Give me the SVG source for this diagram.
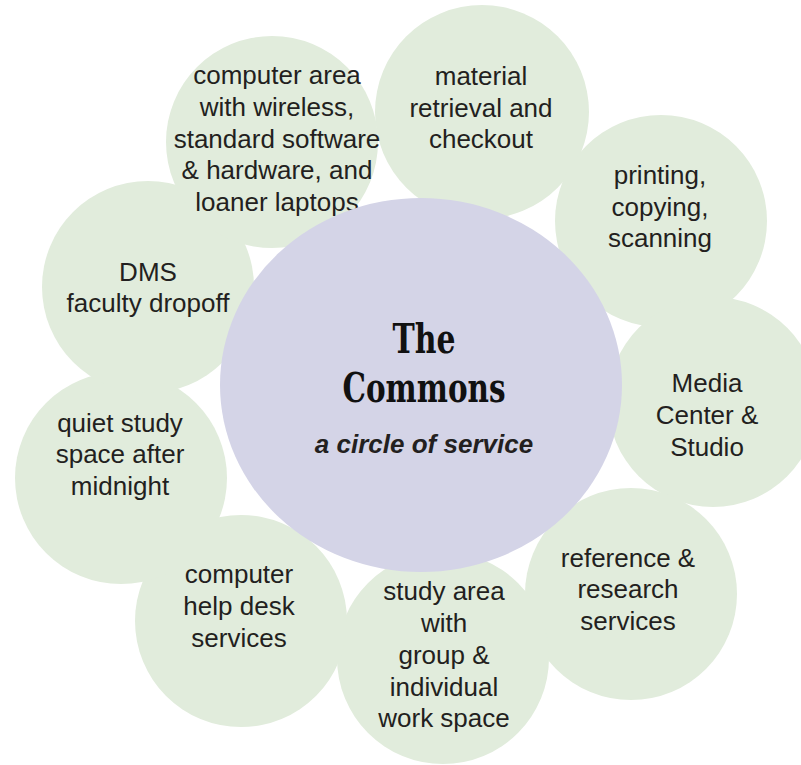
<svg xmlns="http://www.w3.org/2000/svg" width="801" height="765" viewBox="0 0 801 765">
<style>
.c{fill:#e1ecdc;}
.t{font-family:"Liberation Sans",Arial,sans-serif;font-size:26px;fill:#231f20;text-anchor:middle;}
.hub{fill:#d4d4e7;}
.title{font-family:"DejaVu Serif Condensed","DejaVu Serif",serif;font-weight:bold;font-size:41px;fill:#111;text-anchor:middle;}
.sub{font-family:"Liberation Sans",Arial,sans-serif;font-weight:bold;font-style:italic;font-size:26px;fill:#231f20;text-anchor:middle;}
</style>
<rect width="801" height="765" fill="#ffffff"/>
<g id="connectors"/>
<g id="material-retrieval">
<circle class="c" cx="482" cy="112" r="107"/>
<text class="t" x="481" y="85">material</text>
<text class="t" x="481" y="117">retrieval and</text>
<text class="t" x="481" y="148">checkout</text>
</g>
<g id="printing">
<circle class="c" cx="661" cy="221" r="106"/>
<text class="t" x="660" y="184">printing,</text>
<text class="t" x="660" y="216">copying,</text>
<text class="t" x="660" y="247">scanning</text>
</g>
<g id="media-center">
<circle class="c" cx="713" cy="402" r="105"/>
<text class="t" x="707" y="392">Media</text>
<text class="t" x="707" y="424">Center &amp;</text>
<text class="t" x="707" y="456">Studio</text>
</g>
<g id="reference">
<circle class="c" cx="631" cy="594" r="106"/>
<text class="t" x="628" y="567">reference &amp;</text>
<text class="t" x="628" y="598">research</text>
<text class="t" x="628" y="630">services</text>
</g>
<g id="study-area">
<circle class="c" cx="443" cy="658" r="106"/>
<text class="t" x="444" y="600">study area</text>
<text class="t" x="444" y="632">with</text>
<text class="t" x="444" y="664">group &amp;</text>
<text class="t" x="444" y="696">individual</text>
<text class="t" x="444" y="727">work space</text>
</g>
<g id="help-desk">
<circle class="c" cx="241" cy="621" r="106"/>
<text class="t" x="239" y="583">computer</text>
<text class="t" x="239" y="615">help desk</text>
<text class="t" x="239" y="647">services</text>
</g>
<g id="quiet-study">
<circle class="c" cx="121" cy="478" r="106"/>
<text class="t" x="120" y="432">quiet study</text>
<text class="t" x="120" y="463">space after</text>
<text class="t" x="120" y="495">midnight</text>
</g>
<g id="dms">
<circle class="c" cx="148" cy="287" r="106"/>
<text class="t" x="148" y="281">DMS</text>
<text class="t" x="148" y="312">faculty dropoff</text>
</g>
<g id="computer-area">
<circle class="c" cx="272" cy="142" r="106"/>
<text class="t" x="277" y="84">computer area</text>
<text class="t" x="277" y="116">with wireless,</text>
<text class="t" x="277" y="148">standard software</text>
<text class="t" x="277" y="179">&amp; hardware, and</text>
<text class="t" x="277" y="211">loaner laptops</text>
</g>
<g id="the-commons">
<ellipse class="hub" cx="421" cy="385" rx="201" ry="187"/>
<text class="title" x="424" y="353" textLength="63" lengthAdjust="spacingAndGlyphs">The</text>
<text class="title" x="424" y="402" textLength="163" lengthAdjust="spacingAndGlyphs">Commons</text>
<text class="sub" x="424" y="453">a circle of service</text>
</g>
</svg>
